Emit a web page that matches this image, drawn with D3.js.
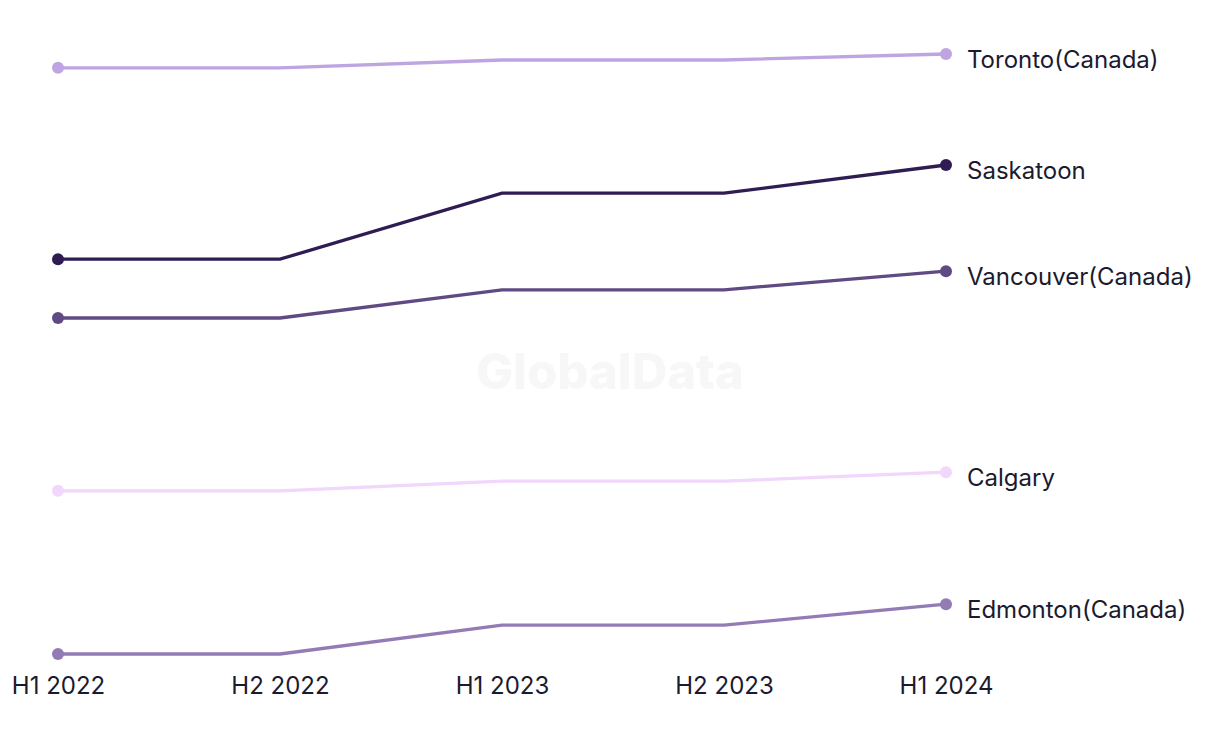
<!DOCTYPE html>
<html><head><meta charset="utf-8">
<script src="https://cdn.jsdelivr.net/npm/d3@7"></script>
<style>body{margin:0;background:#fff;}svg{display:block;}</style>
</head><body>
<svg id="c" width="1220" height="744"></svg>
<script>
const periods = ["H1 2022","H2 2022","H1 2023","H2 2023","H1 2024"];
const cities = ["Toronto(Canada)","Saskatoon","Vancouver(Canada)","Calgary","Edmonton(Canada)"];
const toronto   = [97.7, 97.7, 99.0, 99.0, 100];
const saskatoon = [65.8, 65.8, 76.8, 76.8, 81.5];
const vancouver = [56.0, 56.0, 60.7, 60.7, 63.8];
const calgary   = [27.2, 27.2, 28.8, 28.8, 30.3];
const edmonton  = [0.0, 0.0, 4.8, 4.8, 8.3];
const colors = ["#bea4e1","#2f1c52","#5f4a84","#f0d7fb","#937bb6"];
const seriesVals = [toronto, saskatoon, vancouver, calgary, edmonton];

const svg = d3.select("#c");
const x = d3.scalePoint().domain(periods).range([58, 946]);
const y = d3.scaleLinear().domain([0, 100]).range([654, 54]);

svg.append("text").attr("x", 610).attr("y", 376).attr("text-anchor","middle")
  .attr("dominant-baseline","middle")
  .style("font-family","Inter, 'Liberation Sans', sans-serif").style("font-weight","800")
  .style("font-size","49px").attr("fill","#f7f7f7").text("GlobalData");

const line = d3.line().x((d,i)=>x(periods[i])).y(d=>y(d));
seriesVals.forEach((vals, k) => {
  const g = svg.append("g");
  g.append("path").attr("d", line(vals)).attr("fill","none")
    .attr("stroke", colors[k]).attr("stroke-width", 3.3);
  g.selectAll("circle").data([0, vals.length-1]).join("circle")
    .attr("cx", i=>x(periods[i])).attr("cy", i=>y(vals[i])).attr("r", 6)
    .attr("fill", colors[k]);
  g.append("text").attr("x", x(periods[vals.length-1]) + 21)
    .attr("y", y(vals[vals.length-1]) + 7.5).attr("dominant-baseline","middle")
    .style("font-family","Inter, 'Liberation Sans', sans-serif").style("font-size","24px")
    .attr("fill","#1b1a2e").text(cities[k]);
});

const ax = svg.append("g").attr("transform","translate(0,677)")
  .call(d3.axisBottom(x).tickSize(0).tickPadding(0));
ax.select(".domain").remove();
ax.selectAll("text").attr("dy","0.71em")
  .style("font-family","Inter, 'Liberation Sans', sans-serif").style("font-size","24px")
  .attr("fill","#1b1a2e");
</script>
</body></html>
